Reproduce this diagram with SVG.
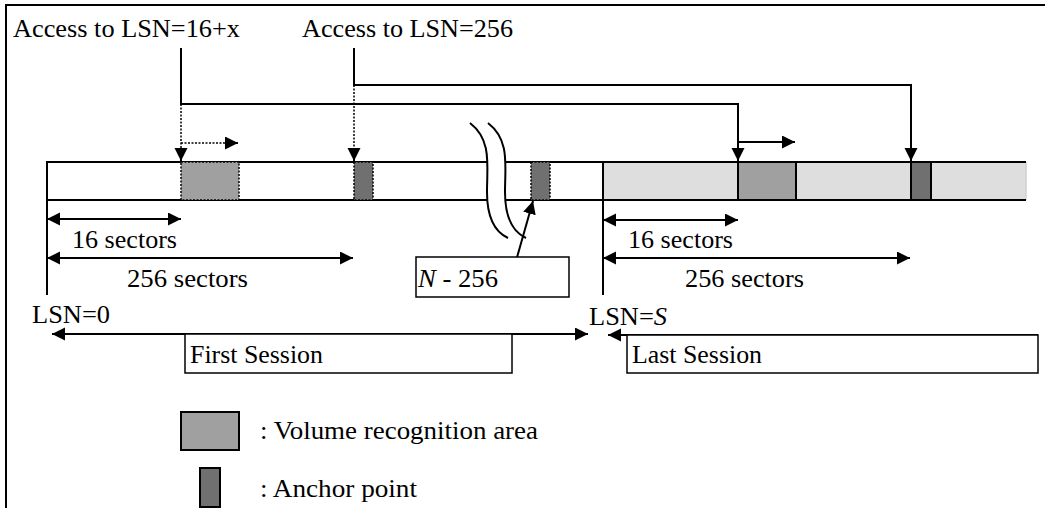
<svg xmlns="http://www.w3.org/2000/svg" width="1045" height="508" viewBox="0 0 1045 508">
<style>
text{font-family:'Liberation Serif','Times New Roman',Times,serif;font-size:25px;fill:#000}
.ln{fill:none;stroke:#000;stroke-width:2}
.dot{fill:none;stroke:#000;stroke-width:1.5;stroke-dasharray:2,1.5}
.box{fill:#fff;stroke:#000;stroke-width:1.5}
.vol{fill:#a0a0a0}
.anc{fill:#707070}
</style>
<defs>
<marker id="ah" markerUnits="userSpaceOnUse" markerWidth="14" markerHeight="14" refX="13" refY="6.5" orient="auto-start-reverse" viewBox="0 0 14 14">
<path d="M0,0 L13,6.5 L0,13 z" fill="#000"/>
</marker>
</defs>
<rect width="1045" height="508" fill="#fff"/>
<g id="frame"><path class="ln" d="M6,508 V5 H1045"/></g>

<g id="bar">
<rect x="47" y="162" width="556" height="38" fill="#fff"/>
<rect x="603" y="162" width="423" height="38" fill="#dedede"/>
<line x1="1026" y1="162" x2="1026" y2="200" stroke="#d0d0d0" stroke-width="1.5"/>
<path class="ln" d="M47,162 H1026 M47,200 H1026 M47,161 V295 M603,161 V295"/>
</g>

<g id="vra1"><rect class="vol" x="181" y="162" width="58" height="38"/><rect class="dot" x="181" y="162" width="58" height="38"/></g>
<g id="anchor1"><rect class="anc" x="354" y="162" width="19" height="38"/><rect class="dot" x="354" y="162" width="19" height="38"/></g>
<g id="anchor2"><rect class="anc" x="531" y="162" width="19" height="38"/><rect class="dot" x="531" y="162" width="19" height="38"/></g>
<g id="vra2"><rect class="vol" x="738" y="162" width="58" height="38" stroke="#000" stroke-width="2"/></g>
<g id="anchor3"><rect class="anc" x="911" y="162" width="20" height="38" stroke="#000" stroke-width="2"/></g>

<g id="break">
<path d="M470,123 C492,140 487,165 487,192 C487,218 495,232 508,238 L526,238 C513,232 505,218 505,192 C505,165 510,140 488,123 Z" fill="#fff"/>
<path class="ln" d="M470,123 C492,140 487,165 487,192 C487,218 495,232 508,238"/>
<path class="ln" d="M488,123 C510,140 505,165 505,192 C505,218 513,232 526,238"/>
</g>

<g id="labels-top">
<text x="13" y="37" textLength="227" lengthAdjust="spacingAndGlyphs">Access to LSN=16+x</text>
<text x="302" y="37" textLength="211" lengthAdjust="spacingAndGlyphs">Access to LSN=256</text>
</g>

<g id="connectors">
<path class="ln" d="M181,48 V104 H738 V161" marker-end="url(#ah)"/>
<path class="ln" d="M354,48 V85 H911 V161" marker-end="url(#ah)"/>
<path class="ln" d="M738,142 H795" marker-end="url(#ah)"/>
<path class="dot" d="M181,104 V152"/>
<path class="ln" d="M181,152 V161" marker-end="url(#ah)" stroke-width="0.1"/>
<path class="dot" d="M354,85 V152"/>
<path class="ln" d="M354,152 V161" marker-end="url(#ah)" stroke-width="0.1"/>
<path class="dot" d="M181,143 H228"/>
<path class="ln" d="M228,143 H238" marker-end="url(#ah)" stroke-width="0.1"/>
<path class="ln" d="M47,219 H181" marker-start="url(#ah)" marker-end="url(#ah)"/>
<path class="ln" d="M47,258 H353" marker-start="url(#ah)" marker-end="url(#ah)"/>
<path class="ln" d="M603,220 H738" marker-start="url(#ah)" marker-end="url(#ah)"/>
<path class="ln" d="M603,258 H910" marker-start="url(#ah)" marker-end="url(#ah)"/>
<path class="ln" d="M52,334 H588" marker-start="url(#ah)" marker-end="url(#ah)"/>
<path class="ln" d="M1038,335 H608" marker-end="url(#ah)"/>
<path class="ln" d="M512,275 L533,201" marker-end="url(#ah)"/>
</g>

<g id="dims">
<text x="72" y="248" textLength="105" lengthAdjust="spacingAndGlyphs">16 sectors</text>
<text x="127" y="287" textLength="121" lengthAdjust="spacingAndGlyphs">256 sectors</text>
<text x="628" y="248" textLength="105" lengthAdjust="spacingAndGlyphs">16 sectors</text>
<text x="685" y="287" textLength="119" lengthAdjust="spacingAndGlyphs">256 sectors</text>
<text x="32" y="323" textLength="78" lengthAdjust="spacingAndGlyphs">LSN=0</text>
<text x="589" y="325" textLength="78" lengthAdjust="spacingAndGlyphs">LSN=<tspan font-style="italic">S</tspan></text>
</g>

<g id="n256">
<rect class="box" x="416" y="257" width="153" height="40"/>
<text x="418" y="287" textLength="80" lengthAdjust="spacingAndGlyphs"><tspan font-style="italic">N</tspan> - 256</text>
</g>

<g id="first-session">
<rect class="box" x="185" y="334" width="327" height="39"/>
<text x="190" y="363" textLength="133" lengthAdjust="spacingAndGlyphs">First Session</text>
</g>
<g id="last-session">
<rect class="box" x="627" y="335" width="411" height="38"/>
<text x="632" y="363" textLength="130" lengthAdjust="spacingAndGlyphs">Last Session</text>
</g>

<g id="legend">
<rect class="vol" x="181" y="412" width="58" height="38" stroke="#000" stroke-width="2"/>
<text x="260" y="439" textLength="278" lengthAdjust="spacingAndGlyphs">: Volume recognition area</text>
<rect class="anc" x="200" y="468" width="20" height="39" stroke="#000" stroke-width="2"/>
<text x="260" y="497" textLength="157" lengthAdjust="spacingAndGlyphs">: Anchor point</text>
</g>
</svg>
